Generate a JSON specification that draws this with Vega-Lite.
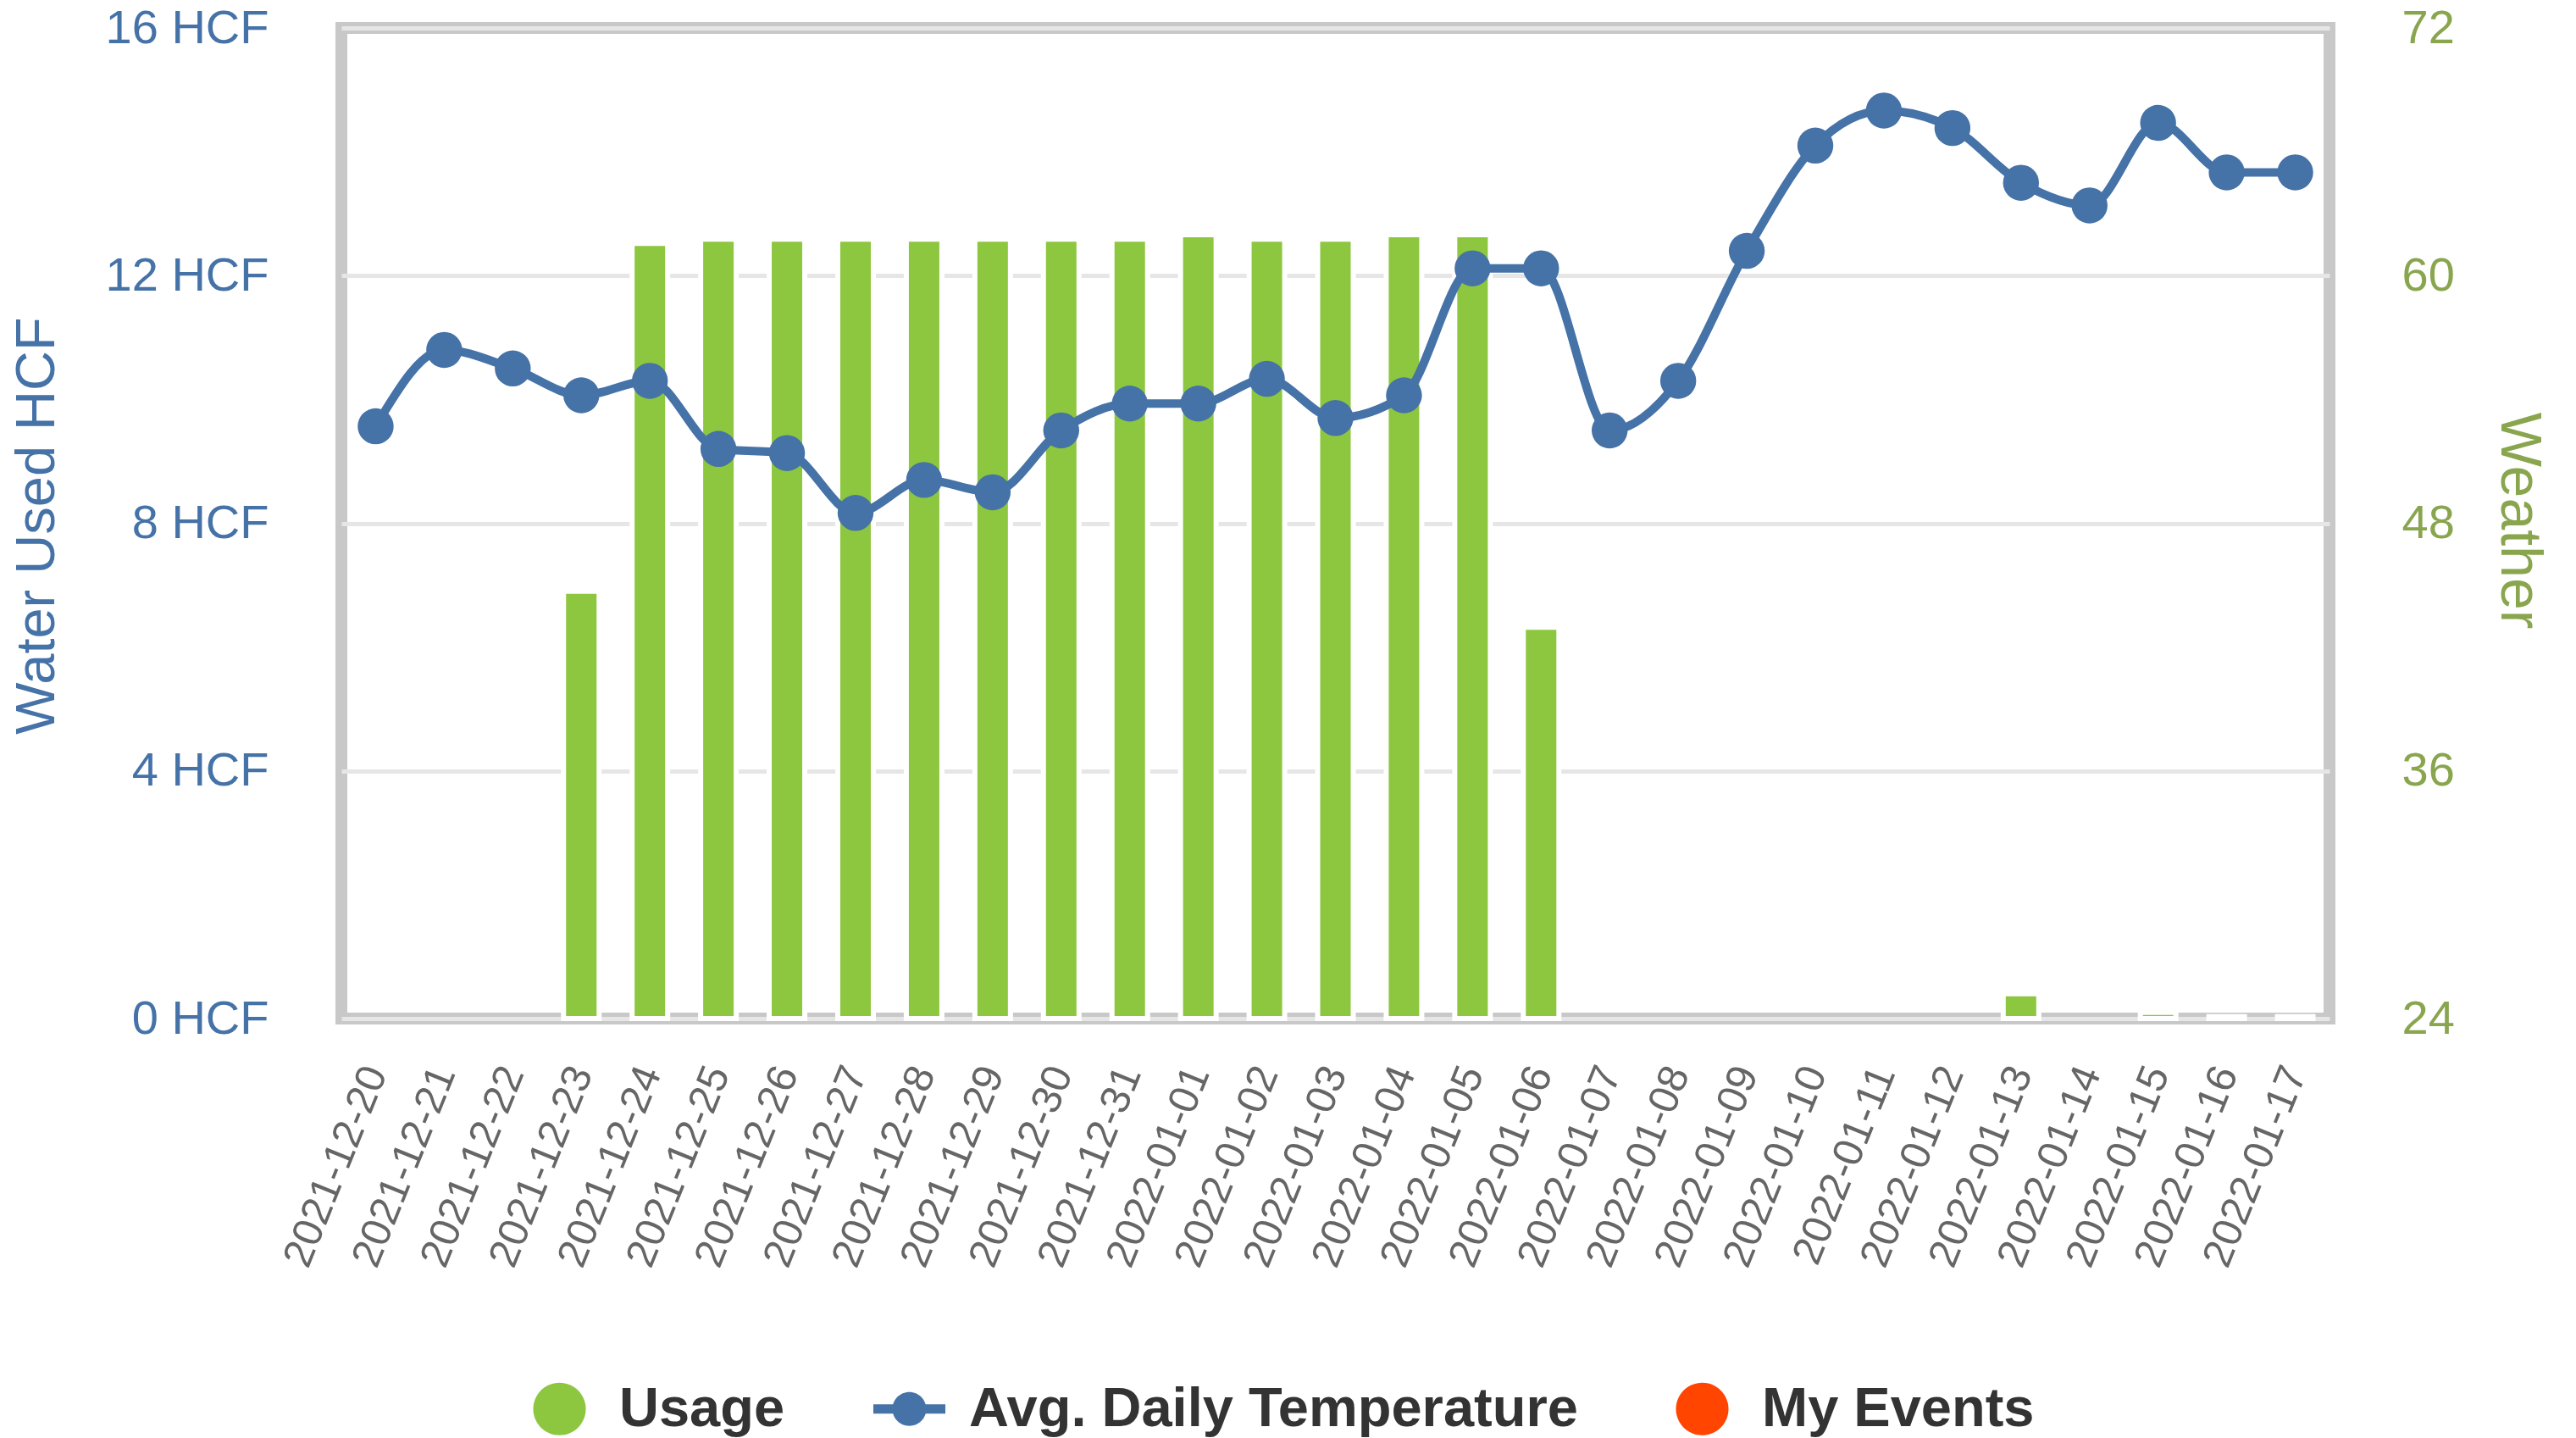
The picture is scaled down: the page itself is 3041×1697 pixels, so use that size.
{
  "$schema": "https://vega.github.io/schema/vega-lite/v6.json",
  "width": 2347,
  "height": 1169,
  "autosize": "none",
  "padding": {"left": 403, "top": 33, "right": 291, "bottom": 495},
  "background": "white",
  "config": {
    "font": "Liberation Sans",
    "view": {"stroke": "#c8c8c8", "strokeWidth": 14}
  },
  "data": {
    "values": [
      {"date": "2021-12-20", "usage": null, "temp": 52.7},
      {"date": "2021-12-21", "usage": null, "temp": 56.4},
      {"date": "2021-12-22", "usage": null, "temp": 55.5},
      {"date": "2021-12-23", "usage": 6.9, "temp": 54.2},
      {"date": "2021-12-24", "usage": 12.52, "temp": 54.9},
      {"date": "2021-12-25", "usage": 12.59, "temp": 51.6},
      {"date": "2021-12-26", "usage": 12.59, "temp": 51.4},
      {"date": "2021-12-27", "usage": 12.59, "temp": 48.5},
      {"date": "2021-12-28", "usage": 12.59, "temp": 50.1},
      {"date": "2021-12-29", "usage": 12.59, "temp": 49.5},
      {"date": "2021-12-30", "usage": 12.59, "temp": 52.5},
      {"date": "2021-12-31", "usage": 12.59, "temp": 53.8},
      {"date": "2022-01-01", "usage": 12.66, "temp": 53.8},
      {"date": "2022-01-02", "usage": 12.59, "temp": 55.0},
      {"date": "2022-01-03", "usage": 12.59, "temp": 53.1},
      {"date": "2022-01-04", "usage": 12.66, "temp": 54.2},
      {"date": "2022-01-05", "usage": 12.66, "temp": 60.35},
      {"date": "2022-01-06", "usage": 6.32, "temp": 60.35},
      {"date": "2022-01-07", "usage": null, "temp": 52.5},
      {"date": "2022-01-08", "usage": null, "temp": 54.9},
      {"date": "2022-01-09", "usage": null, "temp": 61.2},
      {"date": "2022-01-10", "usage": null, "temp": 66.3},
      {"date": "2022-01-11", "usage": null, "temp": 68.0},
      {"date": "2022-01-12", "usage": null, "temp": 67.15},
      {"date": "2022-01-13", "usage": 0.4, "temp": 64.5},
      {"date": "2022-01-14", "usage": null, "temp": 63.4},
      {"date": "2022-01-15", "usage": 0.1, "temp": 67.4},
      {"date": "2022-01-16", "usage": 0.03, "temp": 65.0},
      {"date": "2022-01-17", "usage": 0.03, "temp": 65.0}
    ]
  },
  "encoding": {
    "x": {
      "field": "date",
      "type": "ordinal",
      "scale": {"paddingInner": 0, "paddingOuter": 0},
      "axis": {
        "title": null,
        "labelAngle": -68,
        "labelAlign": "right",
        "labelBaseline": "middle",
        "labelFontSize": 49,
        "labelColor": "#666666",
        "labelPadding": 58,
        "labelLimit": 2000,
        "labelOverlap": false,
        "ticks": false,
        "domain": false,
        "grid": false
      }
    }
  },
  "layer": [
    {
      "mark": {"type": "bar", "size": 42, "color": "#8dc63f", "stroke": "white", "strokeWidth": 6},
      "encoding": {
        "y": {
          "field": "usage",
          "type": "quantitative",
          "scale": {"domain": [0, 16], "nice": false},
          "axis": {
            "orient": "left",
            "values": [0, 4, 8, 12, 16],
            "labelExpr": "datum.value + ' HCF'",
            "labelFontSize": 56,
            "labelColor": "#4572a7",
            "labelPadding": 86,
            "labelLimit": 2000,
            "ticks": false,
            "domain": false,
            "grid": true,
            "gridColor": "#e6e6e6",
            "gridWidth": 5,
            "title": "Water Used HCF",
            "titleFontSize": 65,
            "titleFontWeight": "normal",
            "titleColor": "#4572a7",
            "titleAngle": -90,
            "titleAlign": "center",
            "titleBaseline": "middle",
            "titleX": -360,
            "titleY": 587,
            "titleLimit": 3000
          }
        }
      }
    },
    {
      "encoding": {
        "y": {
          "field": "temp",
          "type": "quantitative",
          "scale": {"domain": [24, 72], "nice": false, "zero": false},
          "axis": {
            "orient": "right",
            "values": [24, 36, 48, 60, 72],
            "labelFontSize": 56,
            "labelColor": "#89a54e",
            "labelPadding": 85,
            "labelLimit": 2000,
            "ticks": false,
            "domain": false,
            "grid": false,
            "title": "Weather",
            "titleFontSize": 68,
            "titleFontWeight": "normal",
            "titleColor": "#89a54e",
            "titleAngle": 90,
            "titleAlign": "center",
            "titleBaseline": "middle",
            "titleX": 222,
            "titleY": 581,
            "titleLimit": 3000
          }
        }
      },
      "layer": [
        {
          "mark": {"type": "line", "interpolate": "monotone", "color": "#4572a7", "strokeWidth": 10}
        },
        {
          "mark": {"type": "point", "shape": "circle", "filled": true, "size": 1800, "color": "#4572a7", "opacity": 1}
        }
      ]
    },
    {
      "transform": [{"filter": "false"}],
      "mark": {"type": "point", "filled": true, "opacity": 1},
      "encoding": {
        "color": {
          "field": "series",
          "type": "nominal",
          "scale": {
            "domain": ["Usage", "Avg. Daily Temperature", "My Events"],
            "range": ["#8dc63f", "#4572a7", "#ff4500"]
          },
          "legend": {
            "title": null,
            "orient": "none",
            "direction": "horizontal",
            "legendX": 215,
            "legendY": 1587,
            "padding": 0,
            "symbolSize": 7225,
            "symbolStrokeWidth": 0,
            "symbolOpacity": 1,
            "labelFontSize": 65,
            "labelFontWeight": "bold",
            "labelColor": "#333333",
            "labelOffset": 28,
            "columnPadding": 104,
            "labelLimit": 2000
          }
        },
        "shape": {
          "field": "series",
          "type": "nominal",
          "scale": {
            "domain": ["Usage", "Avg. Daily Temperature", "My Events"],
            "range": [
              "M0.73,0A0.73,0.73 0 1 1 -0.73,0A0.73,0.73 0 1 1 0.73,0Z",
              "M-1,-0.13L1,-0.13L1,0.13L-1,0.13Z M0.47,0A0.47,0.47 0 1 1 -0.47,0A0.47,0.47 0 1 1 0.47,0Z",
              "M0.73,0A0.73,0.73 0 1 1 -0.73,0A0.73,0.73 0 1 1 0.73,0Z"
            ]
          },
          "legend": {
            "title": null,
            "orient": "none",
            "direction": "horizontal",
            "legendX": 215,
            "legendY": 1587,
            "padding": 0,
            "symbolSize": 7225,
            "symbolStrokeWidth": 0,
            "symbolOpacity": 1,
            "labelFontSize": 65,
            "labelFontWeight": "bold",
            "labelColor": "#333333",
            "labelOffset": 28,
            "columnPadding": 104,
            "labelLimit": 2000
          }
        }
      }
    }
  ],
  "resolve": {"scale": {"y": "independent"}}
}
